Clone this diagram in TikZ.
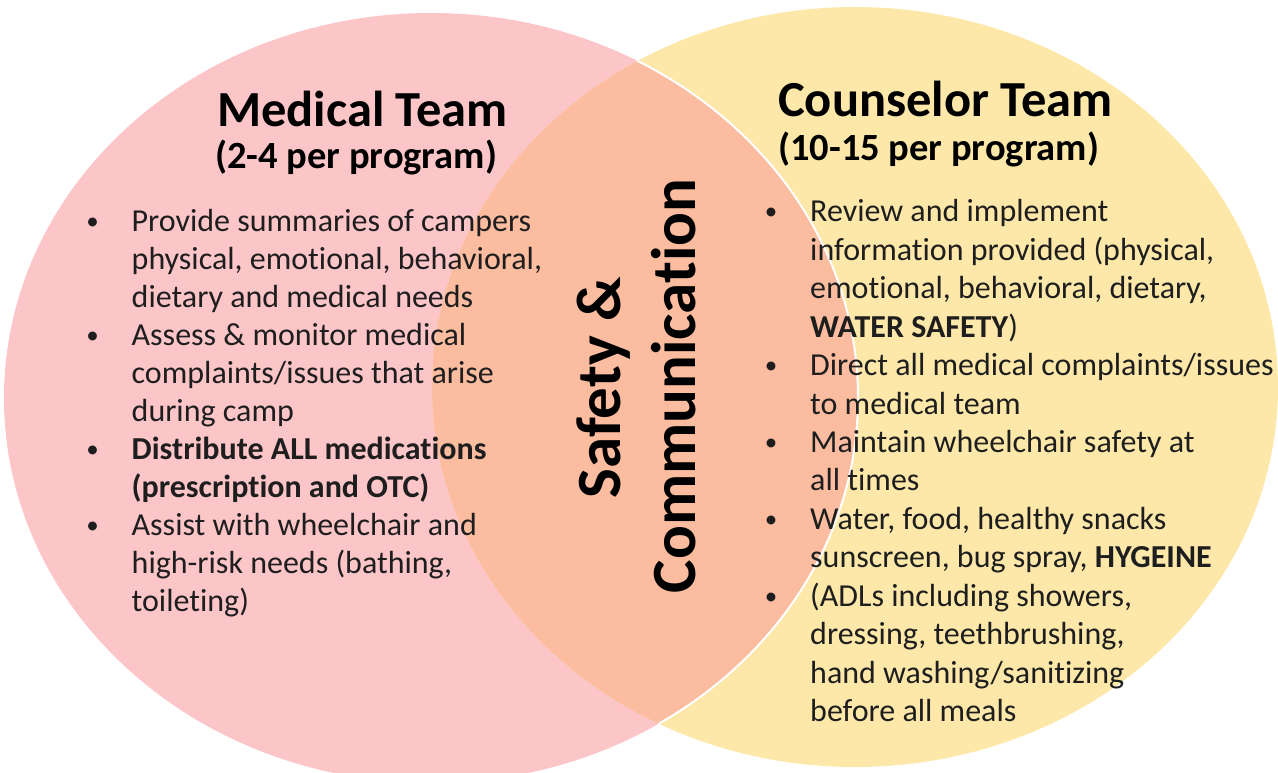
\documentclass[tikz,border=0pt]{standalone}
\usepackage{fontspec}
\setmainfont{Carlito}[Ligatures={NoCommon}]
\definecolor{pinkc}{RGB}{252,197,200}
\definecolor{yellowc}{RGB}{253,232,169}
\definecolor{overlapc}{RGB}{251,188,160}
\definecolor{textc}{RGB}{30,30,30}
\tikzset{
  body/.style={anchor=base west, inner sep=0pt, text=textc, font=\fontsize{32}{38}\selectfont},
  bul/.style={anchor=base, inner sep=0pt, text=textc, font=\fontsize{25}{30}\selectfont},
  ttl/.style={anchor=base west, inner sep=0pt, text=black, font=\fontsize{50.5}{60}\selectfont\bfseries},
  subttl/.style={anchor=base west, inner sep=0pt, text=black, font=\fontsize{38.5}{46}\selectfont\bfseries},
  vert/.style={anchor=base, inner sep=0pt, rotate=90, text=black, font=\fontsize{63}{75}\selectfont\bfseries}
}
\begin{document}
\begin{tikzpicture}[x=1pt,y=-1pt]
\useasboundingbox (0,0) rectangle (1278,773);
% ellipses
\fill[pinkc] (431,398) ellipse [x radius=427pt, y radius=385pt];
\fill[yellowc] (855,387) ellipse [x radius=423pt, y radius=380pt];
\begin{scope}
  \clip (431,398) ellipse [x radius=427pt, y radius=385pt];
  \fill[overlapc] (855,387) ellipse [x radius=423pt, y radius=380pt];
\end{scope}
\begin{scope}
  \clip (855,387) ellipse [x radius=423pt, y radius=380pt];
  \draw[white, line width=2pt] (431,398) ellipse [x radius=427pt, y radius=385pt];
\end{scope}
% titles
\node[ttl] (mt) at (217,126.7) {Medical Team};
\node[subttl] (mts) at (215,168) {(2-4 per program)};
\node[ttl] (ct) at (778,117) {Counselor Team};
\node[subttl] (cts) at (778,161) {(10-15 per program)};
% vertical
\node[vert] (saf) at (620,388) {Safety \&};
\node[vert] (com) at (695,386) {Communication};
% left list
\node[bul] (lb1) at (92.5,229.7) {•};
\node[body] (l0) at (131.5,231.7) {Provide summaries of campers};
\node[body] (l1) at (131.5,269.7) {physical, emotional, behavioral,};
\node[body] (l2) at (131.5,307.7) {dietary and medical needs};
\node[bul] (lb2) at (92.5,343.7) {•};
\node[body] (l3) at (131.5,345.7) {Assess \& monitor medical};
\node[body] (l4) at (131.5,383.7) {complaints/issues that arise};
\node[body] (l5) at (131.5,421.7) {during camp};
\node[bul] (lb3) at (92.5,457.7) {•};
\node[body] (l6) at (131.5,459.7) {\bfseries Distribute ALL medications};
\node[body] (l7) at (131.5,497.7) {\bfseries (prescription and OTC)};
\node[bul] (lb4) at (92.5,533.7) {•};
\node[body] (l8) at (131.5,535.7) {Assist with wheelchair and};
\node[body] (l9) at (131.5,573.7) {high-risk needs (bathing,};
\node[body] (l10) at (131.5,611.7) {toileting)};
% right list
\node[bul] (rb1) at (771,219.7) {•};
\node[body] (r0) at (810,221.7) {Review and implement};
\node[body] (r1) at (810,260.2) {information provided (physical,};
\node[body] (r2) at (810,298.6) {emotional, behavioral, dietary,};
\node[body] (r3) at (810,337.1) {\textbf{WATER SAFETY})};
\node[bul] (rb2) at (771,373.5) {•};
\node[body] (r4) at (810,375.5) {Direct all medical complaints/issues};
\node[body] (r5) at (810,414.0) {to medical team};
\node[bul] (rb3) at (771,450.5) {•};
\node[body] (r6) at (810,452.5) {Maintain wheelchair safety at};
\node[body] (r7) at (810,490.9) {all times};
\node[bul] (rb4) at (771,527.4) {•};
\node[body] (r8) at (810,529.4) {Water, food, healthy snacks};
\node[body] (r9) at (810,567.8) {sunscreen, bug spray, \textbf{HYGEINE}};
\node[bul] (rb5) at (771,604.3) {•};
\node[body] (r10) at (810,606.3) {(ADLs including showers,};
\node[body] (r11) at (810,644.8) {dressing, teethbrushing,};
\node[body] (r12) at (810,683.2) {hand washing/sanitizing};
\node[body] (r13) at (810,721.7) {before all meals};
\end{tikzpicture}
\end{document}
